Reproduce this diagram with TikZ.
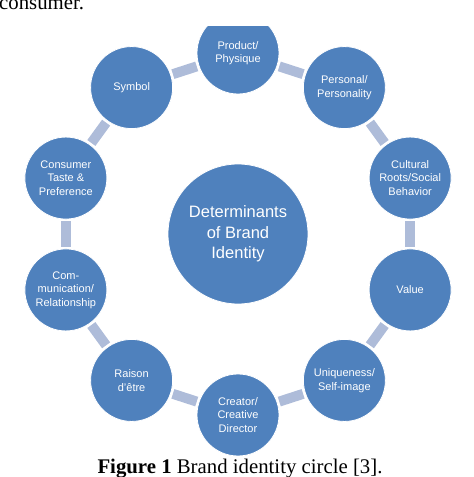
\documentclass[tikz,border=0pt]{standalone}
\usepackage{fontspec}
\setmainfont{Liberation Serif}
\setsansfont{Liberation Sans}
\usetikzlibrary{calc}
\definecolor{ringblue}{HTML}{4F81BD}
\definecolor{linkblue}{HTML}{AEBCD9}
\tikzset{
  onode/.style={circle,draw=white,line width=0.8pt,fill=ringblue,minimum size=82pt,inner sep=0pt,align=center,text=white,font=\sffamily\fontsize{11}{13.5}\selectfont},
  cnode/.style={circle,draw=white,line width=0.8pt,fill=ringblue,minimum size=140pt,inner sep=0pt,align=center,text=white,font=\sffamily\fontsize{16.5}{20.5}\selectfont},
  link/.style={line width=10pt,draw=linkblue,shorten <=2pt,shorten >=2pt}
}

\begin{document}
\begin{tikzpicture}[x=1pt,y=1pt]
\useasboundingbox (0,0) rectangle (474,477);
\clip (0,0) rectangle (474,477);
% running text above the figure
\node[anchor=base west,inner sep=0pt,font=\fontsize{20.8}{24}\selectfont] (prev) at (-1,467) {consumer.};
\begin{scope}
\clip (0,0) rectangle (474,450);
\coordinate (O) at (238,243);
% centre
\node[cnode] (Core) at (O) {Determinants\\of Brand\\Identity};
% ring
\node[onode] (Prod) at ($(O)+(90:181)$) {Product/\\Physique};
\node[onode] (Pers) at ($(O)+(54:181)$) {Personal/\\Personality};
\node[onode] (Cult) at ($(O)+(18:181)$) {Cultural\\Roots/Social\\Behavior};
\node[onode] (Val) at ($(O)+(-18:181)$) {Value};
\node[onode] (Uniq) at ($(O)+(-54:181)$) {Uniqueness/\\Self-image};
\node[onode] (Crea) at ($(O)+(-90:181)$) {Creator/\\Creative\\Director};
\node[onode] (Rais) at ($(O)+(-126:181)$) {Raison\\d’être};
\node[onode] (Comm) at ($(O)+(-162:181)$) {Com-\\munication/\\Relationship};
\node[onode] (Cons) at ($(O)+(162:181)$) {Consumer\\Taste \&\\Preference};
\node[onode] (Symb) at ($(O)+(126:181)$) {Symbol};
% links
\draw[link] (Prod) -- (Pers);
\draw[link] (Pers) -- (Cult);
\draw[link] (Cult) -- (Val);
\draw[link] (Val) -- (Uniq);
\draw[link] (Uniq) -- (Crea);
\draw[link] (Crea) -- (Rais);
\draw[link] (Rais) -- (Comm);
\draw[link] (Comm) -- (Cons);
\draw[link] (Cons) -- (Symb);
\draw[link] (Symb) -- (Prod);
\end{scope}
% caption
\node[anchor=base,inner sep=0pt,font=\fontsize{20.8}{24}\selectfont] (cap) at (240,4) {\textbf{Figure 1} Brand identity circle [3].};
\end{tikzpicture}
\end{document}
